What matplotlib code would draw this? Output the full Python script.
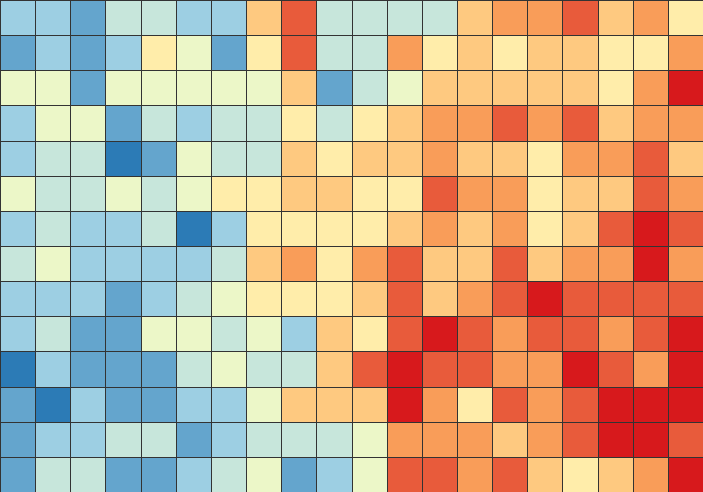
import numpy as np
import matplotlib
matplotlib.use('Agg')
import matplotlib.pyplot as plt
from matplotlib.colors import LinearSegmentedColormap

# palette anchors (blue -> yellow -> red)
palette = ['#2c7bb6', '#abd9e9', '#ffffbf', '#fdae61', '#d7191c']

# cell levels 0..9, one row per line, top row first
rows = [
    [2, 2, 1, 3, 3, 2, 2, 6, 8, 3, 3, 3, 3, 6, 7, 7, 8, 6, 7, 5],
    [1, 2, 1, 2, 5, 4, 1, 5, 8, 3, 3, 7, 5, 6, 5, 6, 6, 5, 5, 7],
    [4, 4, 1, 4, 4, 4, 4, 4, 6, 1, 3, 4, 6, 6, 6, 6, 6, 5, 7, 9],
    [2, 4, 4, 1, 3, 2, 3, 3, 5, 3, 5, 6, 7, 7, 8, 7, 8, 6, 7, 7],
    [2, 3, 3, 0, 1, 4, 3, 3, 6, 5, 6, 6, 7, 6, 6, 5, 7, 7, 8, 6],
    [4, 3, 3, 4, 3, 4, 5, 5, 6, 6, 5, 5, 8, 7, 7, 5, 6, 6, 8, 7],
    [2, 3, 2, 2, 3, 0, 2, 5, 5, 5, 5, 6, 7, 6, 7, 5, 6, 8, 9, 8],
    [3, 4, 2, 2, 2, 2, 3, 6, 7, 5, 7, 8, 6, 6, 8, 6, 7, 7, 9, 7],
    [2, 2, 2, 1, 2, 3, 4, 5, 5, 5, 6, 8, 6, 7, 8, 9, 8, 8, 8, 8],
    [2, 3, 1, 1, 4, 4, 3, 4, 2, 6, 5, 8, 9, 8, 7, 8, 8, 7, 8, 9],
    [0, 2, 1, 1, 1, 3, 4, 3, 3, 6, 8, 9, 8, 8, 7, 7, 9, 8, 7, 9],
    [1, 0, 2, 1, 1, 2, 2, 4, 6, 6, 6, 9, 7, 5, 8, 7, 8, 9, 9, 9],
    [1, 2, 2, 3, 3, 1, 2, 3, 3, 3, 4, 7, 7, 7, 6, 7, 8, 9, 9, 8],
    [1, 3, 3, 1, 1, 2, 3, 4, 1, 2, 4, 8, 8, 7, 8, 6, 5, 6, 7, 9],
]

data = np.array(rows)
cmap = LinearSegmentedColormap.from_list('bu_rd', palette).resampled(10)

fig = plt.figure(figsize=(7.03, 4.92), dpi=100)
ax = fig.add_axes([0, 0, 1, 1])
ax.pcolormesh(data, cmap=cmap, vmin=-0.5, vmax=9.5,
              edgecolors='#333333', linewidth=0.55)
ax.set_xlim(0, data.shape[1])
ax.set_ylim(data.shape[0], 0)
ax.axis('off')

plt.savefig('out.png', dpi=100)
plt.close()
